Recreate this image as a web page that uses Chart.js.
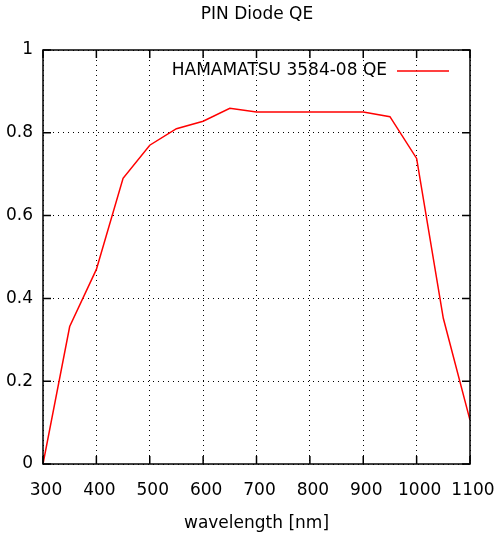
<!DOCTYPE html>
<html>
<head>
<meta charset="utf-8">
<script src="https://cdn.jsdelivr.net/npm/chart.js@4"></script>
<style>
  html, body { margin: 0; padding: 0; background: #fff; }
  #wrap { width: 496px; height: 535px; }
</style>
</head>
<body>
<div id="wrap"><canvas id="qeChart" width="496" height="535"></canvas></div>
<script>
// wavelength [nm] and quantum efficiency
const wavelengths = [300, 350, 400, 450, 500, 550, 600, 650, 700, 750, 800, 850, 900, 950, 1000, 1050, 1100];
const qeValues = [0, 0.332, 0.47, 0.69, 0.77, 0.81, 0.828, 0.859, 0.85, 0.85, 0.85, 0.85, 0.85, 0.839, 0.738, 0.352, 0.106];
const seriesLabel = 'HAMAMATSU 3584-08 QE';
const chartTitle = 'PIN Diode QE';
const xTitle = 'wavelength [nm]';

const FONT = "'DejaVu Sans', sans-serif";

// gnuplot-like frame: title, box, inward ticks on all sides, legend inside
const gnuplotFrame = {
    id: 'gnuplotFrame',
    afterDatasetsDraw(chart) {
        const ctx = chart.ctx;
        const a = chart.chartArea;
        const xs = chart.scales.x;
        const ys = chart.scales.y;
        const tick = 8;
        ctx.save();
        ctx.setLineDash([]);
        ctx.strokeStyle = '#000';
        ctx.lineWidth = 1.5;
        ctx.beginPath();
        xs.ticks.forEach(t => {
            const px = xs.getPixelForValue(t.value);
            ctx.moveTo(px, a.bottom); ctx.lineTo(px, a.bottom - tick);
            ctx.moveTo(px, a.top); ctx.lineTo(px, a.top + tick);
        });
        ys.ticks.forEach(t => {
            const py = ys.getPixelForValue(t.value);
            ctx.moveTo(a.left, py); ctx.lineTo(a.left + tick, py);
            ctx.moveTo(a.right, py); ctx.lineTo(a.right - tick, py);
        });
        ctx.stroke();
        ctx.strokeRect(a.left, a.top, a.right - a.left, a.bottom - a.top);

        // legend
        const ds = chart.data.datasets[0];
        const ly = a.top + 21;
        ctx.font = '17px ' + FONT;
        ctx.fillStyle = '#000';
        ctx.textAlign = 'right';
        ctx.textBaseline = 'middle';
        ctx.fillText(ds.label, a.right - 83, ly);
        ctx.strokeStyle = ds.borderColor;
        ctx.lineWidth = ds.borderWidth;
        ctx.beginPath();
        ctx.moveTo(a.right - 73, ly);
        ctx.lineTo(a.right - 21, ly);
        ctx.stroke();

        // title
        ctx.font = '17px ' + FONT;
        ctx.fillStyle = '#000';
        ctx.textAlign = 'center';
        ctx.fillText(chartTitle, 257, 15);
        ctx.restore();
    }
};

new Chart(document.getElementById('qeChart').getContext('2d'), {
    type: 'line',
    data: {
        datasets: [{
            label: seriesLabel,
            data: wavelengths.map((w, i) => ({ x: w, y: qeValues[i] })),
            borderColor: '#ff0000',
            borderWidth: 1.5,
            pointRadius: 0,
            fill: false,
            tension: 0
        }]
    },
    plugins: [gnuplotFrame],
    options: {
        responsive: false,
        animation: false,
        layout: { padding: { top: 50, right: 26, left: 0, bottom: 0 } },
        plugins: {
            legend: { display: false },
            title: { display: false },
            tooltip: { enabled: false }
        },
        scales: {
            x: {
                type: 'linear',
                min: 300,
                max: 1100,
                afterFit: s => { s.height = 71; s.paddingRight = 0; },
                ticks: {
                    stepSize: 100,
                    color: '#000',
                    padding: 16,
                    labelOffset: 3,
                    maxRotation: 0,
                    callback: v => String(v),
                    font: { family: FONT, size: 17 }
                },
                grid: {
                    color: '#000',
                    lineWidth: 1,
                    drawTicks: false
                },
                border: { display: false, dash: [1, 4] },
                title: {
                    display: true,
                    text: xTitle,
                    color: '#000',
                    font: { family: FONT, size: 17 },
                    padding: { top: 4, bottom: 1 }
                }
            },
            y: {
                min: 0,
                max: 1,
                afterFit: s => { s.width = 43; },
                ticks: {
                    stepSize: 0.2,
                    color: '#000',
                    padding: 10,
                    callback: v => String(Math.round(v * 10) / 10),
                    font: { family: FONT, size: 17 }
                },
                grid: {
                    color: '#000',
                    lineWidth: 1,
                    drawTicks: false
                },
                border: { display: false, dash: [1, 4] }
            }
        }
    }
});
</script>
</body>
</html>
